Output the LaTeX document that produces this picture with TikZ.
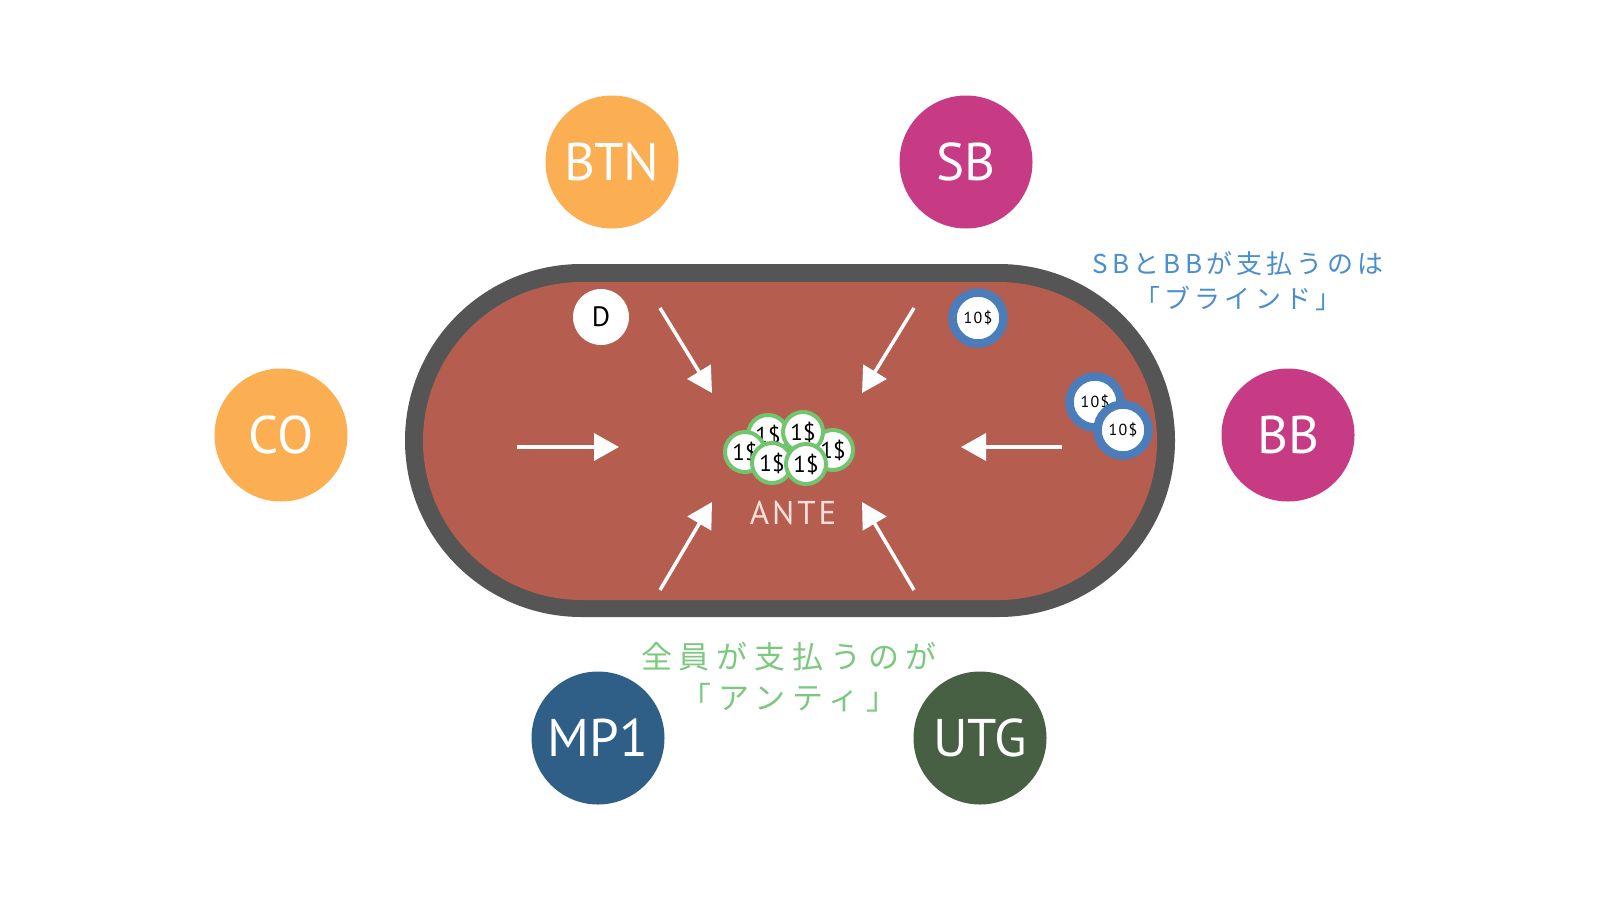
\documentclass[tikz,border=0pt]{standalone}
\usepackage{fontspec}
\setmainfont{PT Sans}
\newfontfamily\jpfont{Noto Sans CJK JP}
\usetikzlibrary{arrows.meta}

\definecolor{seatorange}{HTML}{FBAE52}
\definecolor{seatpink}{HTML}{C63B84}
\definecolor{seatblue}{HTML}{2F5F87}
\definecolor{seatgreen}{HTML}{475F42}
\definecolor{tablerim}{HTML}{555555}
\definecolor{tablefelt}{HTML}{B55E50}
\definecolor{chipblue}{HTML}{4A7DBA}
\definecolor{chipgreen}{HTML}{72C56F}
\definecolor{blindtext}{HTML}{4A8ED0}
\definecolor{antetext}{HTML}{7CC87F}
\definecolor{antelabel}{HTML}{F6E0D8}

\tikzset{
  seat/.style={circle, minimum size=133pt, inner sep=0pt, text=white,
    font=\fontsize{53}{53}\selectfont},
  antechip/.style={circle, fill=white, draw=chipgreen, line width=4pt,
    minimum size=40pt, inner sep=0pt, font=\fontsize{23}{23}\selectfont},
  blindchip/.style={circle, fill=white, draw=chipblue, line width=8.5pt,
    minimum size=51pt, inner sep=0pt,
    font=\fontsize{16}{16}\selectfont\addfontfeature{LetterSpace=8}},
  moneyflow/.style={draw=white, line width=3.5pt,
    -{Triangle[length=25pt,width=27pt]}},
}

\begin{document}
\begin{tikzpicture}[x=1pt,y=-1pt]
    \useasboundingbox (0,0) rectangle (1600,900);

    % Table
    \fill[tablerim, rounded corners=176.5pt] (405,264) rectangle (1175,617);
    \fill[tablefelt, rounded corners=159pt] (423,282) rectangle (1157,600);

    % Seats
    \node[seat, fill=seatorange] (btn) at (612,162) {BTN};
    \node[seat, fill=seatpink] (sb) at (966,162) {SB};
    \node[seat, fill=seatorange] (co) at (281,435) {CO};
    \node[seat, fill=seatpink] (bb) at (1288,435) {BB};
    \node[seat, fill=seatblue] (mp) at (598,738) {MP1};
    \node[seat, fill=seatgreen] (utg) at (980,738) {UTG};

    % Everybody pays into the middle
    \coordinate (tlfrom) at (660,308);  \coordinate (tlto) at (712,393);
    \coordinate (trfrom) at (914,308);  \coordinate (trto) at (862,393);
    \coordinate (lfrom) at (517,447);   \coordinate (lto) at (619,447);
    \coordinate (rfrom) at (1062,447);  \coordinate (rto) at (961,447);
    \coordinate (blfrom) at (660,590);  \coordinate (blto) at (712,502);
    \coordinate (brfrom) at (914,590);  \coordinate (brto) at (862,502);
    \foreach \a/\b in {tlfrom/tlto, trfrom/trto, lfrom/lto, rfrom/rto, blfrom/blto, brfrom/brto}
        \draw[moneyflow] (\a) -- (\b);

    % Dealer button
    \node[circle, fill=white, minimum size=56pt, inner sep=0pt,
          font=\fontsize{28}{28}\selectfont] (dealer) at (601,317) {D};

    % Blinds
    \node[blindchip] (sbchip) at (978,318) {10\$};
    \node[blindchip] (bbchipa) at (1095,402) {10\$};
    \node[blindchip] (bbchipb) at (1123,430) {10\$};

    % Ante pot (back to front)
    \node[antechip] (potr) at (833,450) {1\$};
    \node[antechip] (pottl) at (768,435) {1\$};
    \node[antechip] (pottr) at (803,432) {1\$};
    \node[antechip] (potl) at (745,452) {1\$};
    \node[antechip] (potfl) at (772,463) {1\$};
    \node[antechip] (potfr) at (806,464) {1\$};
    \node[text=antelabel, font=\fontsize{33}{33}\selectfont\addfontfeature{LetterSpace=9}]
        (antelbl) at (793,513) {ANTE};

    % Notes
    \node[text=blindtext, font=\jpfont\fontsize{26}{26}\selectfont\addfontfeature{LetterSpace=16}]
        (blindnote) at (1238,264) {SBとBBが支払うのは};
    \node[text=blindtext, font=\jpfont\fontsize{26}{26}\selectfont\addfontfeature{LetterSpace=16}]
        (blindname) at (1238,298) {「ブラインド」};
    \node[text=antetext, font=\jpfont\fontsize{31}{31}\selectfont\addfontfeature{LetterSpace=22}]
        (antenote) at (789,657) {全員が支払うのが};
    \node[text=antetext, font=\jpfont\fontsize{31}{31}\selectfont\addfontfeature{LetterSpace=22}]
        (antename) at (789,698) {「アンティ」};
\end{tikzpicture}
\end{document}
